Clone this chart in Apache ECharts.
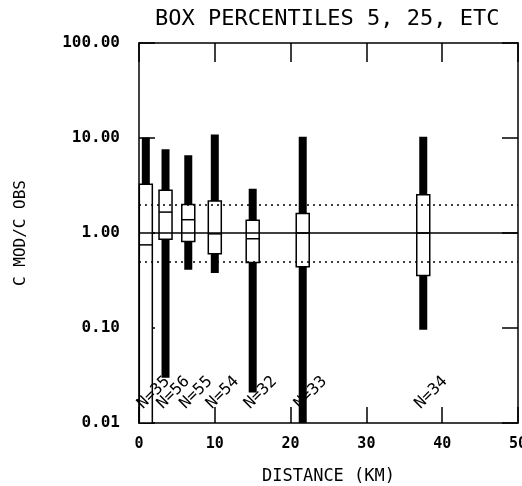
<!DOCTYPE html>
<html>
<head>
<meta charset="utf-8">
<script src="https://cdn.jsdelivr.net/npm/echarts@6/dist/echarts.min.js"></script>
<style>
  html, body { margin: 0; padding: 0; background: #fff; }
  #box { width: 522px; height: 486px; }
</style>
</head>
<body>
<div id="box"></div>
<script>
// box positions (km) and percentiles
const distances = [0.9, 3.5, 6.5, 10.0, 15.0, 21.6, 37.5];
const whiskerLow = [0.01, 0.03, 0.41, 0.38, 0.021, 0.01, 0.096];
const boxLow = [0.01, 0.86, 0.815, 0.605, 0.49, 0.44, 0.357];
const medians = [0.75, 1.66, 1.38, 0.98, 0.87, 1.0, 1.0];
const boxHigh = [3.25, 2.81, 1.99, 2.17, 1.36, 1.6, 2.53];
const whiskerHigh = [10.1, 7.6, 6.6, 10.9, 2.93, 10.3, 10.3];
const counts = ['N=35', 'N=56', 'N=55', 'N=54', 'N=32', 'N=33', 'N=34'];
const refLines = [0.5, 1, 2];

const font = 'DejaVu Sans Mono';

const boxData = distances.map((d, i) => [d, whiskerLow[i], boxLow[i], medians[i], boxHigh[i], whiskerHigh[i], counts[i]]);

function renderBox(params, api) {
  const d = api.value(0);
  const lo = api.coord([d, api.value(1)]);
  const q1 = api.coord([d, api.value(2)]);
  const md = api.coord([d, api.value(3)]);
  const q3 = api.coord([d, api.value(4)]);
  const hi = api.coord([d, api.value(5)]);
  const base = api.coord([d, 0.01]);
  const cx = lo[0];
  const bw = 13, ww = 8;
  return {
    type: 'group',
    children: [
      { type: 'rect', shape: { x: cx - ww / 2, y: hi[1], width: ww, height: lo[1] - hi[1] }, style: { fill: '#000' } },
      { type: 'rect', shape: { x: cx - bw / 2, y: q3[1], width: bw, height: q1[1] - q3[1] }, style: { fill: '#fff', stroke: '#000', lineWidth: 1.5 } },
      { type: 'line', shape: { x1: cx - bw / 2, y1: md[1], x2: cx + bw / 2, y2: md[1] }, style: { stroke: '#000', lineWidth: 1.5 } },
      { type: 'text', x: cx, y: base[1] - 11, rotation: Math.PI / 4,
        style: { x: 0, y: 0, text: api.value(6), fill: '#000', font: '16px "DejaVu Sans Mono"', align: 'left', verticalAlign: 'bottom' } }
    ]
  };
}

const axisLine = { onZero: false, lineStyle: { color: '#000', width: 1.5 } };

const option = {
  animation: false,
  backgroundColor: '#fff',
  title: {
    text: 'BOX PERCENTILES 5, 25, ETC',
    left: 150, top: 3,
    textStyle: { fontFamily: font, fontSize: 22, fontWeight: 'normal', color: '#000' }
  },
  grid: { left: 139, right: 4, top: 43, bottom: 63, outerBoundsMode: 'none', containLabel: false },
  xAxis: [
    {
      type: 'value', min: 0, max: 50, interval: 10,
      name: 'DISTANCE (KM)', nameLocation: 'middle', nameGap: 45,
      nameTextStyle: { fontFamily: font, fontSize: 17, color: '#000' },
      axisLine,
      axisTick: { inside: true, length: 16, lineStyle: { color: '#000', width: 1.5 } },
      axisLabel: { margin: 14, fontFamily: font, fontSize: 15, fontWeight: 'bold', color: '#000' },
      splitLine: { show: false }
    },
    {
      type: 'value', position: 'top', min: 0, max: 50, interval: 10,
      axisLine,
      axisTick: { inside: true, length: 19, lineStyle: { color: '#000', width: 1.5 } },
      axisLabel: { show: false },
      splitLine: { show: false }
    }
  ],
  yAxis: [
    {
      type: 'log', logBase: 10, min: 0.01, max: 100,
      name: 'C MOD/C OBS', nameLocation: 'middle', nameGap: 110, nameRotate: 90,
      nameTextStyle: { fontFamily: font, fontSize: 16, color: '#000' },
      axisLine,
      axisTick: { inside: true, length: 16, lineStyle: { color: '#000', width: 1.5 } },
      axisLabel: { margin: 19, fontFamily: font, fontSize: 16, fontWeight: 'bold', color: '#000',
        formatter: v => v.toFixed(2) },
      splitLine: { show: false }
    },
    {
      type: 'log', logBase: 10, min: 0.01, max: 100, position: 'right',
      axisLine,
      axisTick: { inside: true, length: 16, lineStyle: { color: '#000', width: 1.5 } },
      axisLabel: { show: false },
      splitLine: { show: false }
    }
  ],
  series: [
    {
      type: 'custom', z: 2,
      renderItem: renderBox,
      encode: { x: 0, y: [1, 2, 3, 4, 5] },
      data: boxData
    },
    {
      type: 'line', z: 10, data: [],
      markLine: {
        silent: true, symbol: 'none', label: { show: false },
        data: refLines.map(v => ({
          yAxis: v,
          lineStyle: v === 1
            ? { type: 'solid', color: '#000', width: 1.5 }
            : { type: [2, 4], color: '#000', width: 1.5 }
        }))
      }
    }
  ]
};

const chart = echarts.init(document.getElementById('box'));
chart.setOption(option);
</script>
</body>
</html>
